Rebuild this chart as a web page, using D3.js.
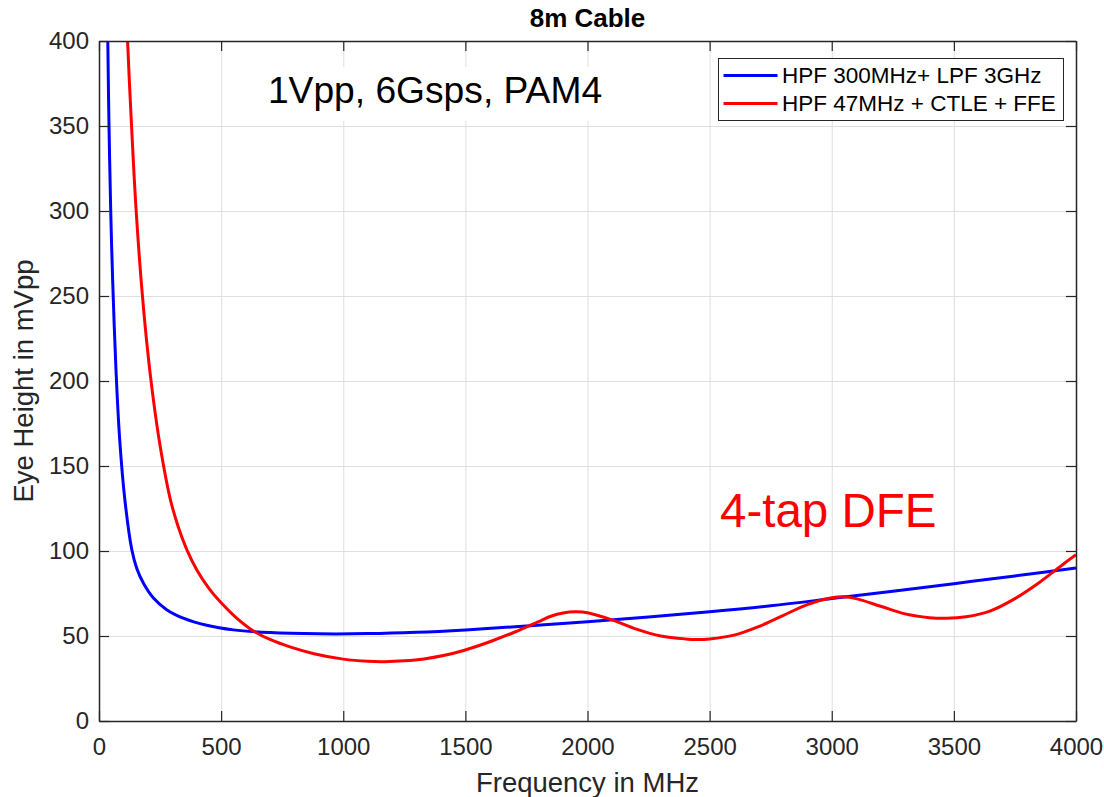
<!DOCTYPE html>
<html>
<head>
<meta charset="utf-8">
<script src="https://cdn.jsdelivr.net/npm/d3@7"></script>
<style>
  html, body { margin: 0; padding: 0; background: #fff; }
  svg { display: block; font-family: "Liberation Sans", Arial, Helvetica, sans-serif; }
</style>
</head>
<body>
<svg id="chart" width="1104" height="797"></svg>
<script>
// Eye height vs. high-pass corner frequency, 8m cable
const xTicks = [0, 500, 1000, 1500, 2000, 2500, 3000, 3500, 4000];
const yTicks = [0, 50, 100, 150, 200, 250, 300, 350, 400];

const seriesNames = ["HPF 300MHz+ LPF 3GHz", "HPF 47MHz + CTLE + FFE"];
const seriesColors = ["#0000ff", "#ff0000"];

// HPF 300MHz + LPF 3GHz  (frequency MHz, eye height mVpp)
const blueFreq = [30, 36, 41, 48, 56, 70, 85, 106, 134, 154, 182, 222, 277, 345, 441, 550, 700, 900, 1100, 1300, 1500, 1750, 2000, 2250, 2500, 2750, 3000, 3250, 3500, 3750, 4000];
const blueEye  = [480, 400, 350, 300, 259, 205, 165, 130, 101, 90, 81, 72.5, 65.5, 60.5, 56.3, 53.6, 52.0, 51.3, 51.4, 52.2, 53.6, 55.9, 58.4, 61.2, 64.3, 67.8, 72, 76.3, 80.8, 85.3, 90];

// HPF 47MHz + CTLE + FFE
const redFreq = [105, 117, 135, 150, 171, 196, 220, 250, 291, 325, 359, 400, 450, 500, 560, 632, 700, 782, 880, 1000, 1100, 1170, 1250, 1330, 1410, 1500, 1600, 1700, 1800, 1850, 1900, 1950, 2000, 2100, 2200, 2300, 2400, 2450, 2500, 2600, 2700, 2800, 2900, 3000, 3050, 3100, 3200, 3300, 3400, 3470, 3550, 3650, 3750, 3850, 3950, 4000];
const redEye  = [450, 400, 345, 305, 262, 222, 192, 162, 131, 114, 101, 89, 78, 69.5, 61, 53, 48, 43.6, 39.6, 36.4, 35.1, 34.9, 35.4, 36.5, 38.5, 41.8, 46.6, 52.2, 58.5, 61.6, 63.5, 64.2, 63.7, 59.5, 54, 50, 48.3, 48.0, 48.3, 50.5, 55.5, 62, 68.5, 72.5, 73.1, 72, 67.5, 63, 60.8, 60.4, 61.3, 64.8, 72, 81.5, 92.5, 97.8];

const margin = { left: 99, top: 41, right: 1104 - 1076, bottom: 797 - 721 };
const W = 1104, H = 797;
const iw = W - margin.left - margin.right;
const ih = H - margin.top - margin.bottom;

const svg = d3.select("#chart");
const axisColor = "#262626";

const x = d3.scaleLinear().domain([0, 4000]).range([0, iw]);
const y = d3.scaleLinear().domain([0, 400]).range([ih, 0]);

const g = svg.append("g").attr("transform", `translate(${margin.left},${margin.top})`);

// grid
g.append("g").attr("class", "grid")
  .call(d3.axisBottom(x).tickValues(xTicks).tickSize(ih).tickFormat(""))
  .call(s => s.select(".domain").remove())
  .call(s => s.selectAll("line").attr("stroke", "#dfdfdf").attr("stroke-width", 1));
g.append("g").attr("class", "grid")
  .call(d3.axisLeft(y).tickValues(yTicks).tickSize(-iw).tickFormat(""))
  .call(s => s.select(".domain").remove())
  .call(s => s.selectAll("line").attr("stroke", "#dfdfdf").attr("stroke-width", 1));

// curves
g.append("clipPath").attr("id", "plotclip")
  .append("rect").attr("x", 0).attr("y", 0).attr("width", iw).attr("height", ih);

const line = d3.line().curve(d3.curveCatmullRom.alpha(0.5));
const series = [
  { f: blueFreq, v: blueEye, color: seriesColors[0] },
  { f: redFreq, v: redEye, color: seriesColors[1] }
];
const curves = g.append("g").attr("clip-path", "url(#plotclip)");
series.forEach(s => {
  curves.append("path")
    .attr("d", line(s.f.map((f, i) => [x(f), y(s.v[i])])))
    .attr("fill", "none")
    .attr("stroke", s.color)
    .attr("stroke-width", 3)
    .attr("stroke-linejoin", "round");
});

// annotation with white background
const note = g.append("g");
const noteText = note.append("text")
  .attr("x", (268 + 602) / 2 - margin.left).attr("y", 103 - margin.top)
  .attr("text-anchor", "middle")
  .attr("font-size", 37.2)
  .attr("fill", "#000")
  .text("1Vpp, 6Gsps, PAM4");
const bb = noteText.node().getBBox();
note.insert("rect", "text")
  .attr("x", bb.x - 12).attr("y", bb.y - 2)
  .attr("width", bb.width + 24).attr("height", bb.height + 12)
  .attr("fill", "#fff");

g.append("text")
  .attr("x", 720 - margin.left).attr("y", 527 - margin.top)
  .attr("font-size", 47.5)
  .attr("fill", "#ff0000")
  .text("4-tap DFE");

// axes with inward ticks on all four sides
const tick = 10;
g.append("g").attr("transform", `translate(0,${ih})`)
  .call(d3.axisBottom(x).tickValues(xTicks).tickSizeInner(-tick).tickSizeOuter(0).tickPadding(17).tickFormat(d3.format("d")))
  .call(s => s.selectAll("text").attr("font-size", 24).attr("fill", axisColor).attr("font-family", null));
g.append("g")
  .call(d3.axisLeft(y).tickValues(yTicks).tickSizeInner(-tick).tickSizeOuter(0).tickPadding(10).tickFormat(d3.format("d")))
  .call(s => s.selectAll("text").attr("font-size", 24).attr("fill", axisColor).attr("font-family", null));
g.append("g")
  .call(d3.axisTop(x).tickValues(xTicks).tickSizeInner(-tick).tickSizeOuter(0).tickFormat(""));
g.append("g").attr("transform", `translate(${iw},0)`)
  .call(d3.axisRight(y).tickValues(yTicks).tickSizeInner(-tick).tickSizeOuter(0).tickFormat(""));
g.selectAll(".domain").attr("stroke", axisColor).attr("stroke-width", 1.5);
g.selectAll(".tick line").filter(function () { return !this.closest(".grid"); })
  .attr("stroke", axisColor).attr("stroke-width", 1.2);

// legend
const lg = g.append("g").attr("transform", `translate(${718.5 - margin.left},${58.5 - margin.top})`);
lg.append("rect").attr("width", 345).attr("height", 62)
  .attr("fill", "#fff").attr("stroke", axisColor).attr("stroke-width", 1);
seriesNames.forEach((name, i) => {
  const yy = 17 + i * 28;
  lg.append("line").attr("x1", 5).attr("x2", 59).attr("y1", yy).attr("y2", yy)
    .attr("stroke", seriesColors[i]).attr("stroke-width", 3);
  lg.append("text").attr("x", 63.5).attr("y", yy).attr("dy", "0.35em")
    .attr("font-size", 22.5).attr("fill", "#000").text(name);
});

// titles
svg.append("text")
  .attr("x", margin.left + iw / 2).attr("y", 27)
  .attr("text-anchor", "middle")
  .attr("font-size", 26).attr("font-weight", "bold").attr("fill", "#000")
  .text("8m Cable");
svg.append("text")
  .attr("x", margin.left + iw / 2).attr("y", 792)
  .attr("text-anchor", "middle")
  .attr("font-size", 27.5).attr("fill", axisColor)
  .text("Frequency in MHz");
svg.append("text")
  .attr("transform", `translate(33,${margin.top + ih / 2}) rotate(-90)`)
  .attr("text-anchor", "middle")
  .attr("font-size", 27.5).attr("fill", axisColor)
  .text("Eye Height in mVpp");
</script>
</body>
</html>
